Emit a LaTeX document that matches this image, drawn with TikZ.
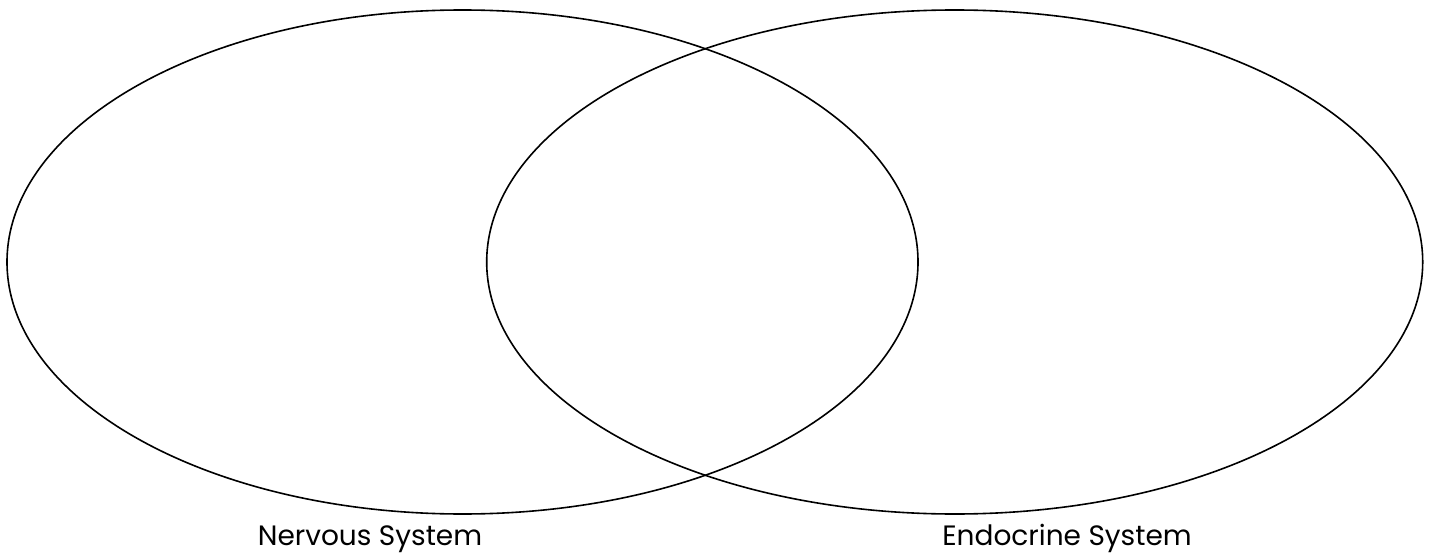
\documentclass[tikz,border=0pt]{standalone}
\usepackage{fontspec}
\setmainfont{Poppins}
\usepackage{tikz}
\usetikzlibrary{shapes.geometric}

\begin{document}
\begin{tikzpicture}[x=1pt,y=-1pt]
        \tikzset{
            circ/.style={draw, ellipse, line width=1.6pt, inner sep=0pt, outer sep=0pt},
            label/.style={anchor=base, inner sep=0pt, font=\fontsize{28}{32}\selectfont}
        }
        \useasboundingbox (0,0) rectangle (1434,559);
        \node[circ, minimum width=911pt, minimum height=504pt] (nerv) at (462.5,262) {};
        \node[circ, minimum width=936pt, minimum height=504pt] (endo) at (954.7,262) {};
        \node[label] (nervlbl) at (370,545) {Nervous System};
        \node[label] (endolbl) at (1067,545) {Endocrine System};
    \end{tikzpicture}
\end{document}
